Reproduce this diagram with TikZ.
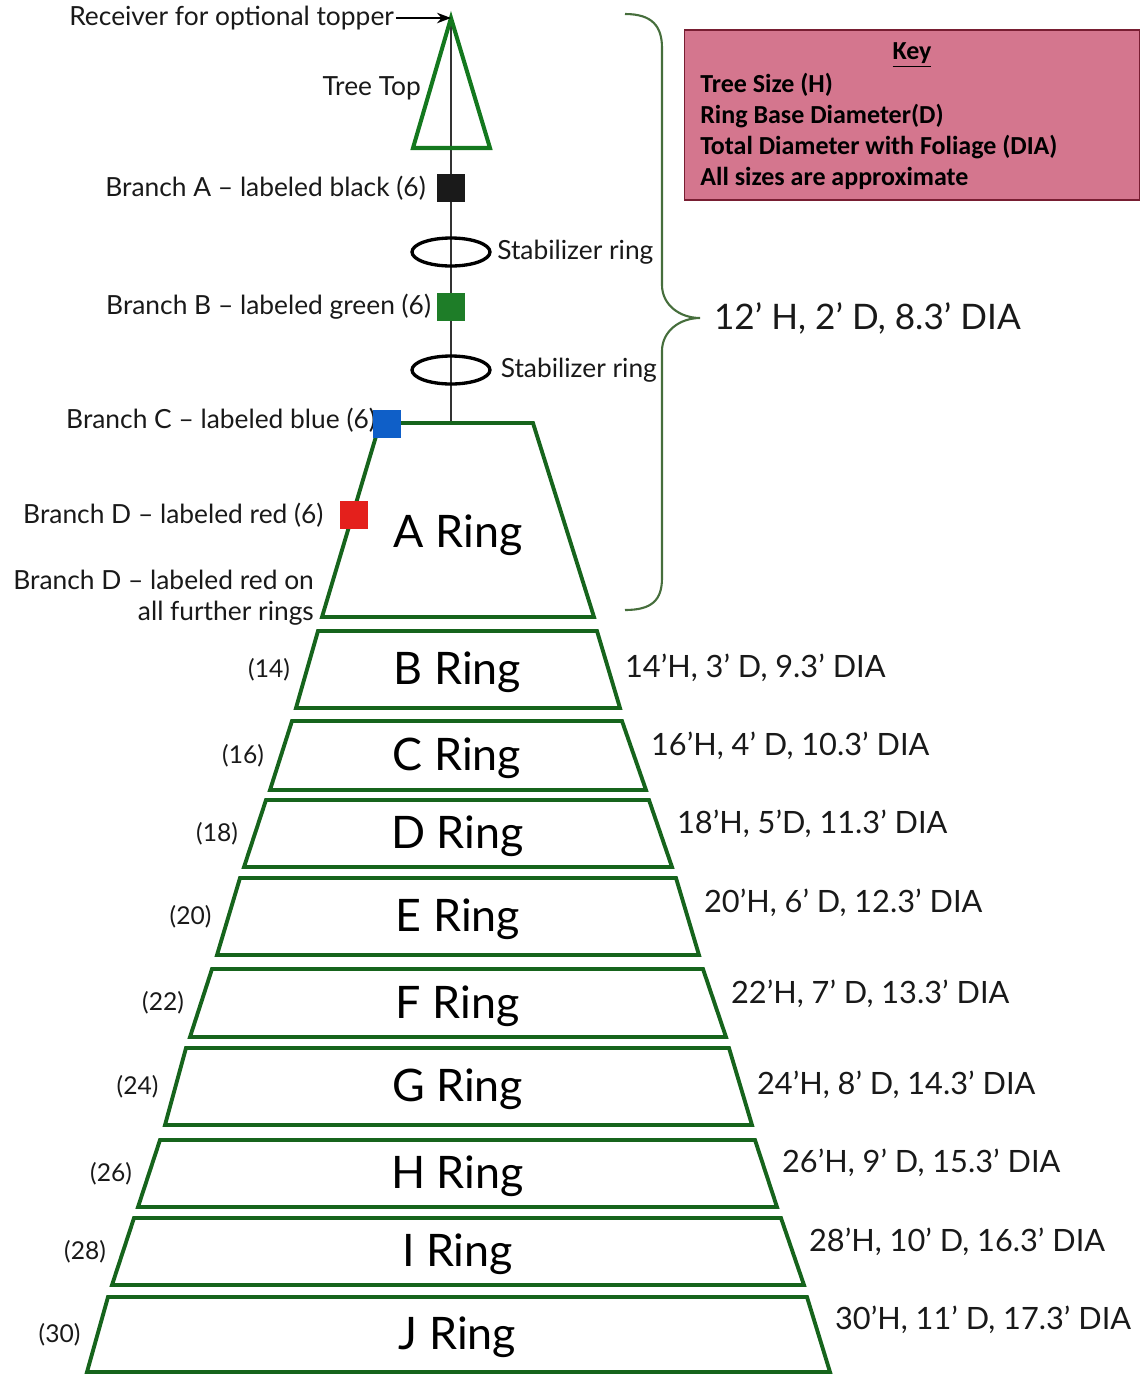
\documentclass[tikz,border=0pt]{standalone}
\usepackage{fontspec}
\setmainfont{Lato}
\newfontfamily\keyfont{Carlito}
\usetikzlibrary{positioning,shapes.geometric,arrows.meta}
\definecolor{ringgreen}{RGB}{22,100,28}
\definecolor{topgreen}{RGB}{20,120,30}
\definecolor{bracegreen}{RGB}{70,110,60}
\definecolor{keypink}{RGB}{212,118,142}
\definecolor{keyedge}{RGB}{120,30,50}
\definecolor{brA}{RGB}{26,26,26}
\definecolor{brB}{RGB}{30,125,40}
\definecolor{brC}{RGB}{15,95,200}
\definecolor{brD}{RGB}{228,32,28}

\begin{document}
\begin{tikzpicture}[x=0.02cm, y=-0.02cm,
  lbl/.style={font=\fontsize{15}{17.6}\selectfont, text=black!90, inner sep=1pt},
  cnt/.style={font=\fontsize{14}{17}\selectfont, text=black!90, inner sep=1pt},
  dims/.style={font=\fontsize{17.5}{20}\selectfont, text=black!90, inner sep=1pt, anchor=west},
  ringname/.style={font=\fontsize{25.5}{30}\selectfont},
  ring/.style={draw=ringgreen, line width=2.2pt, line join=miter},
  branch/.style={minimum size=0.56cm, inner sep=0pt},
  stabring/.style={ellipse, draw, line width=1.9pt, minimum width=1.56cm, minimum height=0.56cm, inner sep=0pt},
  keyline/.style={font=\keyfont\bfseries\fontsize{14.8}{17}\selectfont, anchor=west, inner sep=0pt}]

\useasboundingbox (0,0) rectangle (1140,1374);

\coordinate (apex) at (451,18);
\coordinate (ringtop) at (451,423);
\draw[line width=1pt, black!80] (apex) -- (ringtop);
\draw[draw=topgreen, line width=2.3pt] (apex) -- (490,148) -- (413,148) -- cycle;
\node[lbl, anchor=east] (recv) at (396,18) {Receiver for optional topper};
\draw[-{Stealth[length=8pt,width=6pt]}, line width=1pt] (recv.east) -- (apex);
\node[lbl, anchor=east] (treetop) at (423,88) {Tree Top};

\node[branch, fill=brA] (sqA) at (451,188) {};
\node[lbl, left=5pt of sqA] (lblA) {Branch A – labeled black (6)};
\node[stabring] (stabA) at (451,252) {};
\node[lbl, right=2pt of stabA] (lblstabA) {Stabilizer ring};
\node[branch, fill=brB] (sqB) at (451,307) {};
\node[lbl, left=2pt of sqB] (lblB) {Branch B – labeled green (6)};
\node[stabring] (stabB) at (451,370) {};
\node[lbl, right=4pt of stabB] (lblstabB) {Stabilizer ring};

\draw[ring] (380,423) -- (533,423) -- (594,617) -- (322,617) -- cycle;
\node[ringname] (ringA) at (458,535) {A Ring};
\node[lbl, anchor=east] (lblC) at (378,420) {Branch C – labeled blue (6)};
\node[branch, fill=brC] (sqC) at (387,424) {};
\node[branch, fill=brD] (sqD) at (354,515) {};
\node[lbl, left=8pt of sqD] (lblD) {Branch D – labeled red (6)};
\node[lbl, anchor=east, align=right] (lblDall) at (316,598) {Branch D – labeled red on\\all further rings};

\draw[bracegreen, line width=1.2pt] (625,14) .. controls (652,14) and (662,26) .. (662,48) -- (662,285)
  .. controls (662,305) and (680,318) .. (700,318) .. controls (680,318) and (662,331) .. (662,351) -- (662,578)
  .. controls (662,600) and (652,610) .. (625,610);
\node[lbl, font=\fontsize{20}{24}\selectfont, anchor=west] (totdims) at (712,318) {12’ H, 2’ D, 8.3’ DIA};

\node[draw=keyedge, fill=keypink, line width=1pt, minimum width=9.1cm, minimum height=3.4cm, inner sep=0pt] (key) at (912,115) {};
\node[keyline, anchor=center] (keyhd) at (912,55) {\underline{Key}};
\foreach \txt [count=\i] in {Tree Size (H), Ring Base Diameter(D), Total Diameter with Foliage (DIA), All sizes are approximate}
  \node[keyline] (key\i) at (700,54+31*\i) {\txt};

\foreach \n/\yt/\xtl/\xtr/\yb/\xbl/\xbr/\num/\ys/\sz in {
  B/631/318/597/708/296/620/14/668/{14’H, 3’ D, 9.3’ DIA},
  C/721/292/622/790/270/646/16/746/{16’H, 4’ D, 10.3’ DIA},
  D/800/266/649/867/244/672/18/824/{18’H, 5’D, 11.3’ DIA},
  E/878/240/676/955/217/699/20/903/{20’H, 6’ D, 12.3’ DIA},
  F/969/212/703/1037/190/726/22/994/{22’H, 7’ D, 13.3’ DIA},
  G/1048/186/729/1125/165/752/24/1085/{24’H, 8’ D, 14.3’ DIA},
  H/1140/160/755/1207/138/777/26/1163/{26’H, 9’ D, 15.3’ DIA},
  I/1218/134/781/1285/112/804/28/1242/{28’H, 10’ D, 16.3’ DIA},
  J/1297/108/807/1372/87/830/30/1320/{30’H, 11’ D, 17.3’ DIA}}
{
  \draw[ring] (\xtl,\yt) -- (\xtr,\yt) -- (\xbr,\yb) -- (\xbl,\yb) -- cycle;
  \node[ringname] (ring\n) at ({(\xtl+\xtr)/2}, {(\yt+\yb)/2+3}) {\n\ Ring};
  \node[cnt, anchor=east] (cnt\n) at ({(\xtl+\xbl)/2-15}, {(\yt+\yb)/2}) {(\num)};
  \node[dims] (dim\n) at (\xbr+3, \ys) {\sz};
}
\end{tikzpicture}
\end{document}
